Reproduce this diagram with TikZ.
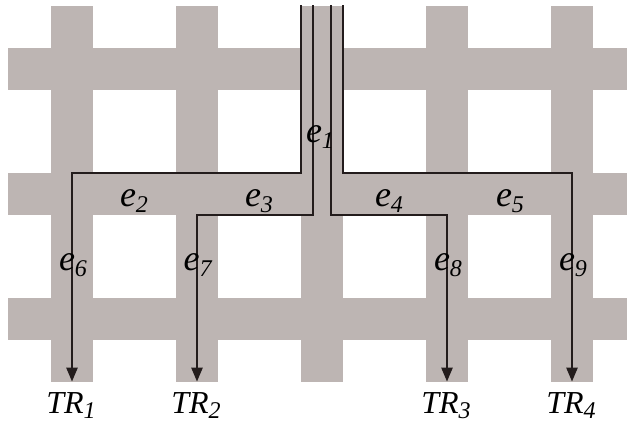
\documentclass[tikz,border=0pt]{standalone}
\usepackage{fontspec}
\setmainfont{Liberation Serif}
\usetikzlibrary{arrows.meta}
\definecolor{meshGray}{RGB}{189,181,179}
\definecolor{wireCol}{RGB}{35,28,28}
\newcommand{\eLabel}[1]{\textit{e}{\fontsize{12}{12}\selectfont\raisebox{-3pt}{\textit{#1}}}}
\newcommand{\trLabel}[1]{\textit{TR}{\fontsize{12}{12}\selectfont\raisebox{-2.5pt}{\textit{#1}}}\kern1pt}

\begin{document}
\begin{tikzpicture}[x=0.5pt,y=-0.5pt,
    wire/.style={draw=wireCol,line width=1.2pt},
    tip/.style={-{Triangle[width=5.5pt,length=7pt]}},
    elbl/.style={font=\fontsize{18}{18}\selectfont,inner sep=1pt,anchor=base},
    trlbl/.style={font=\fontsize{16}{16}\selectfont,inner xsep=2pt,inner ysep=5pt,anchor=base}]
  \useasboundingbox (0,0) rectangle (627,420);
  \foreach \y in {48,173,298}
    \fill[meshGray] (8,\y) rectangle (627,\y+42);
  \foreach \x in {51,176,301,426,551}
    \fill[meshGray] (\x,6) rectangle (\x+42,382);
  \coordinate (s1) at (301,5);
  \coordinate (s2) at (313,5);
  \coordinate (s3) at (331,5);
  \coordinate (s4) at (343,5);
  \node[trlbl] (TR1) at (72,413) {\trLabel{1}};
  \node[trlbl] (TR2) at (197,413) {\trLabel{2}};
  \node[trlbl] (TR3) at (447,413) {\trLabel{3}};
  \node[trlbl] (TR4) at (572,413) {\trLabel{4}};
  \draw[wire,tip] (s1) -- ++(0,168) -| (TR1.north);
  \draw[wire,tip] (s2) -- ++(0,210) -| (TR2.north);
  \draw[wire,tip] (s3) -- ++(0,210) -| (TR3.north);
  \draw[wire,tip] (s4) -- ++(0,168) -| (TR4.north);
  \node[elbl] (e1) at (320,142) {\eLabel{1}};
  \node[elbl] (e2) at (134,206) {\eLabel{2}};
  \node[elbl] (e3) at (259,206) {\eLabel{3}};
  \node[elbl] (e4) at (389,206) {\eLabel{4}};
  \node[elbl] (e5) at (510,206) {\eLabel{5}};
  \node[elbl] (e6) at (73,270) {\eLabel{6}};
  \node[elbl] (e7) at (198,270) {\eLabel{7}};
  \node[elbl] (e8) at (448,270) {\eLabel{8}};
  \node[elbl] (e9) at (573,270) {\eLabel{9}};
\end{tikzpicture}
\end{document}
